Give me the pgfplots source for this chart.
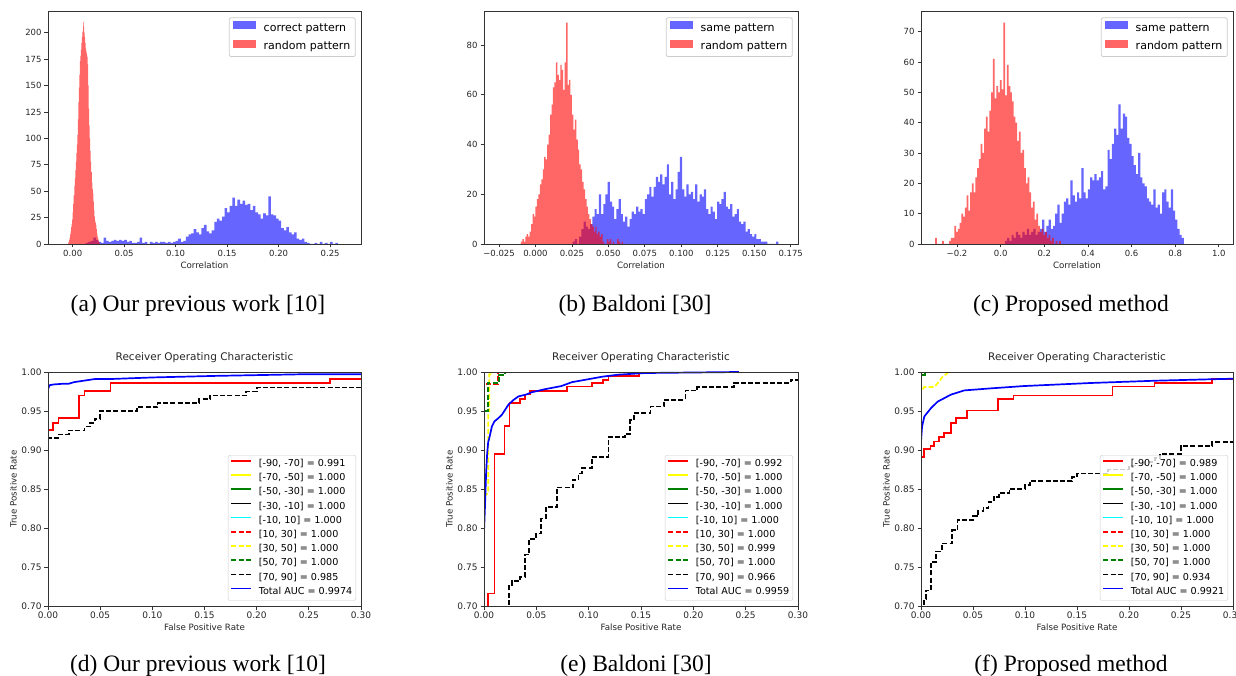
\documentclass[border=0pt]{standalone}
\usepackage{pgfplots}
\pgfplotsset{compat=1.18}
\usepackage{fontspec}
\setmainfont{DejaVu Sans}
\newfontfamily\capfont{Liberation Serif}
\definecolor{mplgreen}{HTML}{008000}
\definecolor{mplyellow}{HTML}{FFFF00}
\definecolor{mplcyan}{HTML}{00FFFF}
\definecolor{mplblue}{HTML}{0000FF}
\definecolor{mplred}{HTML}{FF0000}
\pgfplotsset{
  mplbase/.style={scale only axis, anchor=south west, axis on top, tick align=outside, tick pos=left,
    major tick length=3.5pt, every tick/.style={black!80, line width=0.8pt},
    axis line style={black!80, line width=0.8pt},
    xticklabel style={inner sep=0pt, yshift=-2.5pt},
    yticklabel style={inner sep=0pt, xshift=-2.8pt},
    x label style={at={(axis description cs:0.5,0)}, anchor=center, font=\fontsize{8.7}{10}\selectfont, text=black!85},
    y label style={at={(axis description cs:0,0.5)}, anchor=center, font=\fontsize{8.7}{10}\selectfont, text=black!85},
    legend cell align=left},
  hist/.style={mplbase, ymin=0,
    ticklabel style={font=\fontsize{8.5}{10}\selectfont, text=black!85},
    x label style={yshift=-21.7pt},
    legend image code/.code={\fill[##1, sharp corners] (0pt,-0.9pt) rectangle (22.5pt,7.4pt);},
    legend style={at={(1,1)}, anchor=north east, xshift=-5.3pt, yshift=-6.3pt, draw=black!20, line width=0.8pt,
      rounded corners=2pt, fill=white, fill opacity=0.8, text opacity=1, font=\fontsize{11}{13}\selectfont,
      inner xsep=4pt, inner ysep=3.2pt, row sep=5.2pt, column sep=7pt,
      nodes={inner sep=1pt, text height=8pt, text depth=2.5pt}}},
  roc/.style={mplbase, xmin=0, xmax=0.3, ymin=0.7, ymax=1.0,
    ticklabel style={font=\fontsize{9}{10}\selectfont, text=black!85},
    xtick={0,0.05,0.1,0.15,0.2,0.25,0.3}, xticklabels={0.00,0.05,0.10,0.15,0.20,0.25,0.30},
    ytick={0.7,0.75,0.8,0.85,0.9,0.95,1.0}, yticklabels={0.70,0.75,0.80,0.85,0.90,0.95,1.00},
    xlabel={False Positive Rate}, ylabel={True Positive Rate},
    x label style={yshift=-21pt}, y label style={yshift=34.7pt},
    title={Receiver Operating Characteristic},
    title style={at={(0.5,1)}, anchor=base, yshift=5.2pt, font=\fontsize{10.5}{12}\selectfont, text=black!85},
    legend image code/.code={\draw[##1, sharp corners] (0pt,3.2pt) -- (20pt,3.2pt);},
    legend style={at={(1,0)}, anchor=south east, xshift=-5pt, yshift=5.3pt, draw=black!20,
      rounded corners=2pt, fill=white, fill opacity=0.8, text opacity=1, font=\fontsize{9.6}{11}\selectfont,
      inner xsep=2.5pt, inner ysep=3.2pt, row sep=3.2pt, column sep=5.5pt,
      nodes={inner sep=1pt, text height=7pt, text depth=2pt}}},
  sl/.style={line width=1.7pt, sharp corners, solid},
  dl/.style={line width=1.7pt, sharp corners, dash pattern=on 5pt off 2.2pt},
  bh/.style={const plot mark left, fill=mplblue, fill opacity=0.6, draw=none},
  rh/.style={const plot mark left, fill=mplred, fill opacity=0.6, draw=none}
}
\begin{document}
\begin{tikzpicture}[x=1pt,y=1pt]
\useasboundingbox (0,0) rectangle (1236,675);
% ---------------- (a)
\begin{axis}[hist, at={(48pt,431pt)}, width=313pt, height=233pt,
  xmin=-0.024, xmax=0.280, ymax=220.5,
  xtick={0,0.05,0.1,0.15,0.2,0.25}, xticklabels={0.00,0.05,0.10,0.15,0.20,0.25},
  ytick={0,25,50,75,100,125,150,175,200}, yticklabels={0,25,50,75,100,125,150,175,200},
  xlabel={Correlation}]
\addplot[bh] coordinates {(0.0125,1)(0.015,2)(0.0175,3)(0.020,6)(0.0225,4)(0.025,2)(0.0275,1)(0.030,6)(0.0325,3)(0.035,2)(0.0375,3)(0.040,4)(0.0425,3)(0.045,4)(0.0475,3)(0.050,4)(0.0525,2)(0.055,3)(0.0575,1)(0.060,1)(0.0625,2)(0.065,6)(0.0675,1)(0.070,2)(0.0725,0)(0.075,2)(0.0775,1)(0.080,2)(0.0825,1)(0.085,2)(0.0875,2)(0.090,1)(0.0925,2)(0.095,1)(0.0975,2)(0.100,3)(0.1025,5)(0.105,2)(0.1075,3)(0.110,7)(0.1125,9)(0.115,10)(0.1175,14)(0.120,11)(0.1225,9)(0.125,15)(0.1275,18)(0.130,12)(0.1325,10)(0.135,13)(0.1375,21)(0.140,24)(0.1425,22)(0.145,26)(0.1475,34)(0.150,30)(0.1525,36)(0.155,44)(0.1575,36)(0.160,42)(0.1625,38)(0.165,41)(0.1675,37)(0.170,38)(0.1725,32)(0.175,36)(0.1775,30)(0.180,28)(0.1825,24)(0.185,29)(0.1875,27)(0.190,45)(0.1925,28)(0.195,27)(0.1975,24)(0.200,22)(0.2025,15)(0.205,13)(0.2075,16)(0.210,11)(0.2125,9)(0.215,11)(0.2175,5)(0.220,4)(0.2225,5)(0.225,2)(0.2275,1)(0.230,0)(0.2325,0)(0.235,1)(0.2375,0)(0.240,2)(0.2425,0)(0.245,1)(0.2475,0)(0.250,2)(0.2525,0)(0.255,1)(0.2575,0)} \closedcycle;
\addlegendentry{correct pattern}
\addplot[rh] coordinates {(-0.0045,1)(-0.0040,2)(-0.0035,4)(-0.0030,6)(-0.0025,9)(-0.0020,12)(-0.0015,16)(-0.0010,19)(-0.0005,23)(0.0000,30)(0.0005,38)(0.0010,46)(0.0015,55)(0.0020,62)(0.0025,70)(0.0030,78)(0.0035,86)(0.0040,94)(0.0045,103)(0.0050,118)(0.0055,134)(0.0060,148)(0.0065,160)(0.0070,173)(0.0075,178)(0.0080,184)(0.0085,190)(0.0090,196)(0.0095,201)(0.0100,210)(0.0105,206)(0.0110,200)(0.0115,196)(0.0120,190)(0.0125,185)(0.0130,182)(0.0135,180)(0.0140,177)(0.0145,170)(0.0150,150)(0.0155,128)(0.0160,112)(0.0165,100)(0.0170,88)(0.0175,78)(0.0180,68)(0.0185,58)(0.0190,52)(0.0195,48)(0.0200,40)(0.0205,32)(0.0210,26)(0.0215,22)(0.0220,20)(0.0225,18)(0.0230,14)(0.0235,10)(0.0240,7)(0.0245,5)(0.0250,3)(0.0255,2)(0.0260,1)(0.0265,0)} \closedcycle;
\addlegendentry{random pattern}
\end{axis}
% ---------------- (b)
\begin{axis}[hist, at={(484pt,431pt)}, width=314pt, height=233pt,
  xmin=-0.0353, xmax=0.180, ymax=93.7,
  xtick={-0.025,0,0.025,0.05,0.075,0.1,0.125,0.15,0.175}, xticklabels={−0.025,0.000,0.025,0.050,0.075,0.100,0.125,0.150,0.175},
  ytick={0,20,40,60,80}, yticklabels={0,20,40,60,80},
  xlabel={Correlation}]
\addplot[bh] coordinates {(0.0255,1)(0.0270,2)(0.0285,0)(0.0300,3)(0.0315,6)(0.0330,9)(0.0345,7)(0.0360,6)(0.0375,8)(0.0390,11)(0.0405,14)(0.0420,12)(0.0435,20)(0.0450,12)(0.0465,16)(0.0480,20)(0.0495,25)(0.0510,17)(0.0525,15)(0.0540,10)(0.0555,14)(0.0570,18)(0.0585,12)(0.0600,9)(0.0615,11)(0.0630,7)(0.0645,10)(0.0660,13)(0.0675,12)(0.0690,15)(0.0705,13)(0.0720,14)(0.0735,12)(0.0750,18)(0.0765,20)(0.0780,23)(0.0795,19)(0.0810,23)(0.0825,27)(0.0840,25)(0.0855,28)(0.0870,24)(0.0885,27)(0.0900,32)(0.0915,20)(0.0930,25)(0.0945,18)(0.0960,22)(0.0975,29)(0.0990,35)(0.1005,22)(0.1020,19)(0.1035,24)(0.1050,20)(0.1065,21)(0.1080,18)(0.1095,24)(0.1110,17)(0.1125,20)(0.1140,19)(0.1155,22)(0.1170,14)(0.1185,12)(0.1200,15)(0.1215,13)(0.1230,10)(0.1245,17)(0.1260,16)(0.1275,18)(0.1290,21)(0.1305,15)(0.1320,14)(0.1335,16)(0.1350,11)(0.1365,12)(0.1380,14)(0.1395,9)(0.1410,8)(0.1425,9)(0.1440,5)(0.1455,6)(0.1470,4)(0.1485,3)(0.1500,4)(0.1515,2)(0.1530,2)(0.1545,1)(0.1560,1)(0.1575,1)(0.1590,0)(0.1605,0)(0.1620,0)(0.1635,0)(0.1650,1)(0.1665,0)} \closedcycle;
\addlegendentry{same pattern}
\addplot[rh] coordinates {(-0.010,1)(-0.009,2)(-0.008,1)(-0.007,3)(-0.006,4)(-0.005,3)(-0.004,5)(-0.003,8)(-0.002,12)(-0.001,11)(0.000,15)(0.001,18)(0.002,20)(0.003,24)(0.004,26)(0.005,30)(0.006,35)(0.007,34)(0.008,40)(0.009,44)(0.010,52)(0.011,56)(0.012,63)(0.013,65)(0.014,73)(0.015,68)(0.016,66)(0.017,72)(0.018,70)(0.019,62)(0.020,73)(0.021,89)(0.022,64)(0.023,66)(0.024,60)(0.025,52)(0.026,46)(0.027,50)(0.028,42)(0.029,38)(0.030,32)(0.031,30)(0.032,25)(0.033,22)(0.034,18)(0.035,15)(0.036,12)(0.037,10)(0.038,8)(0.039,7)(0.040,5)(0.041,7)(0.042,4)(0.043,5)(0.044,3)(0.045,4)(0.046,1)(0.047,0)(0.048,0)(0.049,2)(0.050,1)(0.051,2)(0.052,0)(0.053,1)(0.054,0)(0.055,0)(0.056,2)(0.057,1)(0.058,0)(0.059,1)(0.060,0)} \closedcycle;
\addlegendentry{random pattern}
\end{axis}
% ---------------- (c)
\begin{axis}[hist, at={(921pt,431pt)}, width=312pt, height=233pt,
  xmin=-0.365, xmax=1.065, ymax=76.8,
  xtick={-0.2,0,0.2,0.4,0.6,0.8,1.0}, xticklabels={−0.2,0.0,0.2,0.4,0.6,0.8,1.0},
  ytick={0,10,20,30,40,50,60,70}, yticklabels={0,10,20,30,40,50,60,70},
  xlabel={Correlation}]
\addplot[bh] coordinates {(0.02,1)(0.03,2)(0.04,1)(0.05,3)(0.06,2)(0.07,4)(0.08,3)(0.09,2)(0.10,4)(0.11,3)(0.12,5)(0.13,3)(0.14,4)(0.15,5)(0.16,3)(0.17,4)(0.18,5)(0.19,8)(0.20,4)(0.21,6)(0.22,8)(0.23,5)(0.24,6)(0.25,10)(0.26,13)(0.27,7)(0.28,10)(0.29,14)(0.30,15)(0.31,13)(0.32,21)(0.33,16)(0.34,14)(0.35,17)(0.36,15)(0.37,25)(0.38,17)(0.39,15)(0.40,18)(0.41,22)(0.42,21)(0.43,23)(0.44,21)(0.45,22)(0.46,24)(0.47,18)(0.48,19)(0.49,31)(0.50,28)(0.51,33)(0.52,38)(0.53,36)(0.54,46)(0.55,38)(0.56,43)(0.57,42)(0.58,35)(0.59,33)(0.60,29)(0.61,26)(0.62,23)(0.63,30)(0.64,22)(0.65,20)(0.66,19)(0.67,15)(0.68,14)(0.69,13)(0.70,18)(0.71,12)(0.72,13)(0.73,10)(0.74,17)(0.75,18)(0.76,14)(0.77,12)(0.78,18)(0.79,11)(0.80,8)(0.81,5)(0.82,3)(0.83,2)(0.84,0)} \closedcycle;
\addlegendentry{same pattern}
\addplot[rh] coordinates {(-0.300,2)(-0.292,0)(-0.284,0)(-0.276,0)(-0.268,1)(-0.260,0)(-0.252,0)(-0.244,0)(-0.236,1)(-0.228,2)(-0.220,2)(-0.212,6)(-0.204,4)(-0.196,5)(-0.188,7)(-0.180,10)(-0.172,9)(-0.164,12)(-0.156,16)(-0.148,11)(-0.140,17)(-0.132,20)(-0.124,17)(-0.116,22)(-0.108,25)(-0.100,28)(-0.092,33)(-0.084,30)(-0.076,38)(-0.068,42)(-0.060,37)(-0.052,44)(-0.044,50)(-0.036,61)(-0.028,48)(-0.020,52)(-0.012,50)(-0.004,54)(0.004,51)(0.012,73)(0.020,49)(0.028,59)(0.036,52)(0.044,50)(0.052,47)(0.060,42)(0.068,40)(0.076,34)(0.084,37)(0.092,30)(0.100,31)(0.108,25)(0.116,20)(0.124,22)(0.132,17)(0.140,12)(0.148,14)(0.156,8)(0.164,10)(0.172,6)(0.180,4)(0.188,5)(0.196,3)(0.204,4)(0.212,2)(0.220,3)(0.228,1)(0.236,2)(0.244,0)(0.252,1)(0.260,0)(0.268,1)(0.276,0)} \closedcycle;
\addlegendentry{random pattern}
\end{axis}
% ---------------- (d)
\begin{axis}[roc, at={(48pt,69pt)}, width=313pt, height=234pt]
\addplot[sl, mplred] coordinates {(0,0.6)(0,0.926)(0.005,0.926)(0.005,0.935)(0.01,0.935)(0.01,0.941)(0.03,0.941)(0.03,0.970)(0.035,0.970)(0.035,0.976)(0.06,0.976)(0.06,0.986)(0.27,0.986)(0.27,0.991)(0.3,0.991)};
\addlegendentry{{[}-90, -70{]} = 0.991}
\addlegendimage{sl, mplyellow}
\addlegendentry{{[}-70, -50{]} = 1.000}
\addlegendimage{sl, mplgreen}
\addlegendentry{{[}-50, -30{]} = 1.000}
\addlegendimage{sl, black}
\addlegendentry{{[}-30, -10{]} = 1.000}
\addlegendimage{sl, mplcyan}
\addlegendentry{{[}-10, 10{]} = 1.000}
\addlegendimage{dl, mplred}
\addlegendentry{{[}10, 30{]} = 1.000}
\addlegendimage{dl, mplyellow}
\addlegendentry{{[}30, 50{]} = 1.000}
\addlegendimage{dl, mplgreen}
\addlegendentry{{[}50, 70{]} = 1.000}
\addplot[dl, black] coordinates {(0,0.6)(0,0.915)(0.01,0.915)(0.01,0.92)(0.02,0.92)(0.02,0.925)(0.035,0.925)(0.035,0.93)(0.04,0.93)(0.04,0.935)(0.045,0.935)(0.045,0.94)(0.05,0.94)(0.05,0.95)(0.085,0.95)(0.085,0.955)(0.105,0.955)(0.105,0.96)(0.145,0.96)(0.145,0.965)(0.155,0.965)(0.155,0.97)(0.19,0.97)(0.19,0.975)(0.2,0.975)(0.2,0.98)(0.3,0.98)};
\addlegendentry{{[}70, 90{]} = 0.985}
\addplot[sl, mplblue] coordinates {(0,0.6)(0,0.978)(0.0015,0.983)(0.005,0.984)(0.015,0.985)(0.02,0.985)(0.025,0.987)(0.03,0.988)(0.035,0.989)(0.04,0.990)(0.045,0.991)(0.06,0.991)(0.08,0.992)(0.1,0.993)(0.13,0.994)(0.16,0.995)(0.2,0.996)(0.24,0.997)(0.3,0.997)};
\addlegendentry{Total AUC = 0.9974}
\end{axis}
% ---------------- (e)
\begin{axis}[roc, at={(484pt,69pt)}, width=314pt, height=234pt]
\addplot[sl, mplred] coordinates {(0.0035,0.6)(0.0035,0.716)(0.0099,0.716)(0.0099,0.895)(0.0195,0.895)(0.0195,0.931)(0.0243,0.931)(0.0243,0.960)(0.0345,0.960)(0.0345,0.965)(0.039,0.965)(0.039,0.971)(0.044,0.971)(0.044,0.976)(0.0795,0.976)(0.0795,0.9816)(0.103,0.9816)(0.103,0.986)(0.114,0.986)(0.114,0.990)(0.119,0.990)(0.119,0.995)(0.148,0.995)(0.148,1.0)};
\addlegendentry{{[}-90, -70{]} = 0.992}
\addlegendimage{sl, mplyellow}
\addlegendentry{{[}-70, -50{]} = 1.000}
\addlegendimage{sl, mplgreen}
\addlegendentry{{[}-50, -30{]} = 1.000}
\addlegendimage{sl, black}
\addlegendentry{{[}-30, -10{]} = 1.000}
\addlegendimage{sl, mplcyan}
\addlegendentry{{[}-10, 10{]} = 1.000}
\addplot[dl, mplred] coordinates {(0,0.6)(0,0.985)(0.0135,0.985)(0.0135,1)};
\addlegendentry{{[}10, 30{]} = 1.000}
\addplot[dl, mplyellow] coordinates {(0,0.6)(0,0.84)(0.004,0.845)(0.004,0.95)(0.005,0.95)(0.005,0.997)(0.008,0.997)(0.008,1)};
\addlegendentry{{[}30, 50{]} = 0.999}
\addplot[dl, mplgreen] coordinates {(0,0.6)(0,0.95)(0.0035,0.95)(0.0035,0.986)(0.0145,0.986)(0.0145,0.996)(0.02,0.996)(0.02,1)};
\addlegendentry{{[}50, 70{]} = 1.000}
\addplot[dl, black] coordinates {(0.024,0.6)(0.024,0.7266)(0.0265,0.7266)(0.0265,0.732)(0.0345,0.732)(0.0345,0.737)(0.039,0.737)(0.039,0.766)(0.043,0.766)(0.043,0.786)(0.0495,0.786)(0.0495,0.793)(0.0546,0.793)(0.0546,0.812)(0.0594,0.812)(0.0594,0.827)(0.0696,0.827)(0.0696,0.852)(0.0849,0.852)(0.0849,0.8616)(0.0903,0.8616)(0.0903,0.870)(0.0935,0.870)(0.0935,0.8766)(0.103,0.8766)(0.103,0.8907)(0.119,0.8907)(0.119,0.9164)(0.135,0.9164)(0.135,0.9207)(0.1398,0.9207)(0.1398,0.9387)(0.143,0.9387)(0.143,0.9473)(0.159,0.9473)(0.159,0.9559)(0.1717,0.9559)(0.1717,0.9644)(0.1924,0.9644)(0.1924,0.9764)(0.2036,0.9764)(0.2036,0.9807)(0.2387,0.9807)(0.2387,0.9859)(0.293,0.9859)(0.293,0.990)(0.3,0.990)};
\addlegendentry{{[}70, 90{]} = 0.966}
\addplot[sl, mplblue] coordinates {(0,0.6)(0,0.795)(0.001,0.83)(0.002,0.87)(0.003,0.895)(0.004,0.91)(0.0057,0.919)(0.0075,0.93)(0.0099,0.9366)(0.013,0.94)(0.017,0.945)(0.0233,0.958)(0.028,0.964)(0.0329,0.9687)(0.04,0.971)(0.0456,0.974)(0.0584,0.978)(0.074,0.982)(0.084,0.987)(0.0967,0.990)(0.113,0.994)(0.1286,0.9966)(0.154,0.9987)(0.2435,1.0)};
\addlegendentry{Total AUC = 0.9959}
\end{axis}
% ---------------- (f)
\begin{axis}[roc, at={(921pt,69pt)}, width=312pt, height=234pt]
\addplot[sl, mplred] coordinates {(0,0.6)(0,0.8907)(0.0032,0.8907)(0.0032,0.901)(0.009,0.901)(0.009,0.9053)(0.0128,0.9053)(0.0128,0.911)(0.0176,0.911)(0.0176,0.9164)(0.0224,0.9164)(0.0224,0.9216)(0.0288,0.9216)(0.0288,0.935)(0.0336,0.935)(0.0336,0.9409)(0.0441,0.9409)(0.0441,0.9507)(0.0742,0.9507)(0.0742,0.9653)(0.0889,0.9653)(0.0889,0.970)(0.184,0.970)(0.184,0.9816)(0.2245,0.9816)(0.2245,0.9859)(0.2798,0.9859)(0.2798,0.991)(0.3,0.991)};
\addlegendentry{{[}-90, -70{]} = 0.989}
\addlegendimage{sl, mplyellow}
\addlegendentry{{[}-70, -50{]} = 1.000}
\addplot[sl, mplgreen] coordinates {(0,0.6)(0,0.996)(0.004,0.996)(0.004,1)};
\addlegendentry{{[}-50, -30{]} = 1.000}
\addlegendimage{sl, black}
\addlegendentry{{[}-30, -10{]} = 1.000}
\addlegendimage{sl, mplcyan}
\addlegendentry{{[}-10, 10{]} = 1.000}
\addlegendimage{dl, mplred}
\addlegendentry{{[}10, 30{]} = 1.000}
\addplot[dl, mplyellow] coordinates {(0,0.6)(0,0.975)(0.003,0.9807)(0.0128,0.9807)(0.0176,0.988)(0.0208,0.994)(0.0256,0.9987)(0.0256,1)};
\addlegendentry{{[}30, 50{]} = 1.000}
\addlegendimage{dl, mplgreen}
\addlegendentry{{[}50, 70{]} = 1.000}
\addplot[dl, black] coordinates {(0.0032,0.6)(0.0032,0.709)(0.0048,0.709)(0.0048,0.72)(0.0096,0.72)(0.0096,0.756)(0.0144,0.756)(0.0144,0.77)(0.02,0.77)(0.02,0.78)(0.03,0.78)(0.03,0.797)(0.035,0.797)(0.035,0.81)(0.05,0.81)(0.05,0.815)(0.055,0.815)(0.055,0.822)(0.06,0.822)(0.06,0.826)(0.065,0.826)(0.065,0.833)(0.07,0.833)(0.07,0.84)(0.075,0.84)(0.075,0.845)(0.085,0.845)(0.085,0.85)(0.1,0.85)(0.1,0.855)(0.105,0.855)(0.105,0.86)(0.145,0.86)(0.145,0.865)(0.15,0.865)(0.15,0.87)(0.18,0.87)(0.18,0.875)(0.2,0.875)(0.2,0.88)(0.215,0.88)(0.215,0.885)(0.225,0.885)(0.225,0.89)(0.23,0.89)(0.23,0.895)(0.25,0.895)(0.25,0.905)(0.28,0.905)(0.28,0.91)(0.3,0.91)};
\addlegendentry{{[}70, 90{]} = 0.934}
\addplot[sl, mplblue] coordinates {(0,0.6)(0,0.911)(0.001,0.93)(0.0032,0.943)(0.0096,0.9537)(0.016,0.962)(0.0288,0.971)(0.0416,0.9764)(0.067,0.979)(0.099,0.982)(0.163,0.9859)(0.227,0.9889)(0.3,0.9914)};
\addlegendentry{Total AUC = 0.9921}
\end{axis}
% ---------------- captions
\begin{scope}[every node/.style={anchor=base, font=\capfont\fontsize{23.5}{28}\selectfont}]
\node at (198,363.7) {(a) Our previous work [10]};
\node at (635,363.7) {(b) Baldoni [30]};
\node at (1071,363.7) {(c) Proposed method};
\node at (198,4) {(d) Our previous work [10]};
\node at (636,4) {(e) Baldoni [30]};
\node at (1071,4) {(f) Proposed method};
\end{scope}
\end{tikzpicture}
\end{document}
